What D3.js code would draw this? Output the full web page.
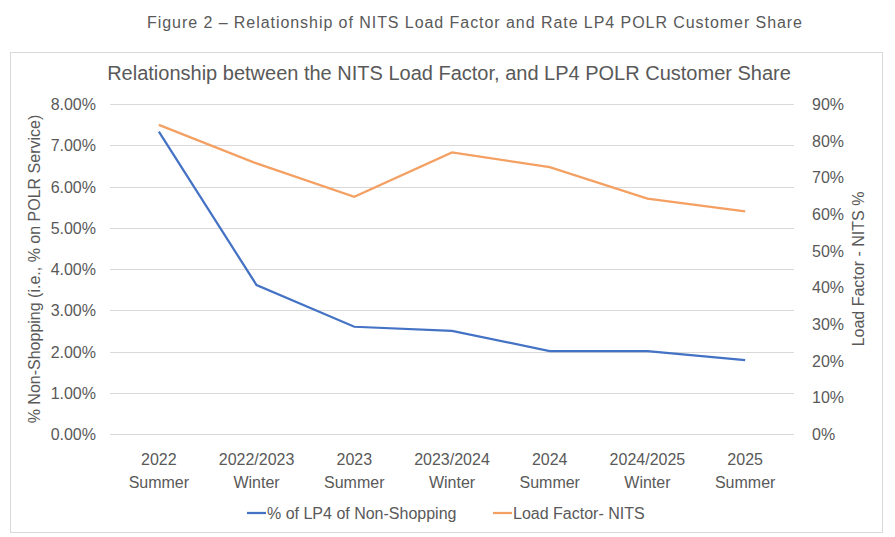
<!DOCTYPE html>
<html>
<head>
<meta charset="utf-8">
<script src="https://cdn.jsdelivr.net/npm/d3@7"></script>
<style>
  body { margin: 0; background: #fff; }
  text { font-family: "Liberation Sans Narrow", "Liberation Sans", sans-serif; fill: #595959; }
</style>
</head>
<body>
<svg id="chart" width="895" height="537"></svg>
<script>
// data
var yearLabels = ["2022", "2022/2023", "2023", "2023/2024", "2024", "2024/2025", "2025"];
var seasonLabels = ["Summer", "Winter", "Summer", "Winter", "Summer", "Winter", "Summer"];
var nonShopping = [0.0733, 0.0361, 0.0260, 0.0250, 0.0201, 0.0201, 0.0179];
var loadFactor = [0.843, 0.738, 0.647, 0.768, 0.728, 0.642, 0.607];
var leftTicks = [0, 0.01, 0.02, 0.03, 0.04, 0.05, 0.06, 0.07, 0.08];
var rightTicks = [0, 0.1, 0.2, 0.3, 0.4, 0.5, 0.6, 0.7, 0.8, 0.9];

var svg = d3.select("#chart");
var plotL = 110, plotR = 794, plotT = 104, plotB = 434;

// figure caption
svg.append("text")
  .attr("x", 475).attr("y", 28)
  .attr("text-anchor", "middle")
  .attr("textLength", 656)
  .style("font-size", "16px")
  .style("letter-spacing", "1px")
  .text("Figure 2 \u2013 Relationship of NITS Load Factor and Rate LP4 POLR Customer Share");

// chart frame
svg.append("rect")
  .attr("x", 10.5).attr("y", 52.5)
  .attr("width", 872).attr("height", 480)
  .attr("fill", "none").attr("stroke", "#d9d9d9");

svg.append("text")
  .attr("x", 449).attr("y", 80)
  .attr("text-anchor", "middle")
  .style("font-size", "20px")
  .text("Relationship between the NITS Load Factor, and LP4 POLR Customer Share");

var x = d3.scaleBand().domain(d3.range(yearLabels.length)).range([plotL, plotR]);
var yL = d3.scaleLinear().domain([0, 0.08]).range([plotB, plotT]);
var yR = d3.scaleLinear().domain([0, 0.9]).range([plotB, plotT]);

// gridlines
svg.append("g").selectAll("line").data(leftTicks).enter().append("line")
  .attr("x1", plotL).attr("x2", plotR)
  .attr("y1", function(d) { return Math.round(yL(d)) + 0.5; })
  .attr("y2", function(d) { return Math.round(yL(d)) + 0.5; })
  .attr("stroke", "#d9d9d9").attr("stroke-width", 1);

// left axis
var axL = svg.append("g").attr("transform", "translate(" + (plotL - 14) + ",0)")
  .call(d3.axisLeft(yL).tickValues(leftTicks).tickFormat(d3.format(".2%")).tickSize(0).tickPadding(0));
axL.select(".domain").remove();
axL.selectAll("text").style("font-size", "16px").style("font-family", null).attr("dy", "0.35em");

// right axis
var axR = svg.append("g").attr("transform", "translate(" + (plotR + 18) + ",0)")
  .call(d3.axisRight(yR).tickValues(rightTicks).tickFormat(d3.format(".0%")).tickSize(0).tickPadding(0));
axR.select(".domain").remove();
axR.selectAll("text").style("font-size", "16px").attr("dy", "0.35em");
svg.selectAll(".tick text").attr("fill", null);
svg.selectAll("g[font-family]").attr("font-family", null).attr("font-size", null);

// x labels
var xl = svg.append("g").selectAll("text").data(yearLabels).enter().append("text")
  .attr("text-anchor", "middle")
  .attr("x", function(d, i) { return x(i) + x.bandwidth() / 2; })
  .attr("y", 465)
  .style("font-size", "16px");
xl.append("tspan").text(function(d) { return d; });
xl.append("tspan")
  .attr("x", function(d, i) { return x(i) + x.bandwidth() / 2; })
  .attr("dy", 23)
  .text(function(d, i) { return seasonLabels[i]; });

// axis titles
svg.append("text")
  .attr("transform", "translate(40," + ((plotT + plotB) / 2) + ") rotate(-90)")
  .attr("text-anchor", "middle")
  .style("font-size", "16px")
  .text("% Non-Shopping (i.e., % on POLR Service)");
svg.append("text")
  .attr("transform", "translate(864," + ((plotT + plotB) / 2) + ") rotate(-90)")
  .attr("text-anchor", "middle")
  .style("font-size", "16px")
  .text("Load Factor - NITS %");

// lines
var cx = function(d, i) { return x(i) + x.bandwidth() / 2; };
svg.append("path").datum(loadFactor)
  .attr("fill", "none").attr("stroke", "#f4a062").attr("stroke-width", 2.25)
  .attr("d", d3.line().x(cx).y(function(d) { return yR(d); }));
svg.append("path").datum(nonShopping)
  .attr("fill", "none").attr("stroke", "#4472c4").attr("stroke-width", 2.25)
  .attr("d", d3.line().x(cx).y(function(d) { return yL(d); }));

// legend
var legend = [
  { name: "% of LP4 of Non-Shopping", color: "#4472c4", x: 247 },
  { name: "Load Factor- NITS", color: "#f4a062", x: 493 }
];
var lg = svg.append("g").selectAll("g").data(legend).enter().append("g")
  .attr("transform", function(d) { return "translate(" + d.x + ",513)"; });
lg.append("line").attr("x1", 0).attr("x2", 19).attr("y1", 0).attr("y2", 0)
  .attr("stroke", function(d) { return d.color; }).attr("stroke-width", 2.25);
lg.append("text").attr("x", 20).attr("dy", "0.35em")
  .style("font-size", "16px")
  .text(function(d) { return d.name; });
</script>
</body>
</html>
